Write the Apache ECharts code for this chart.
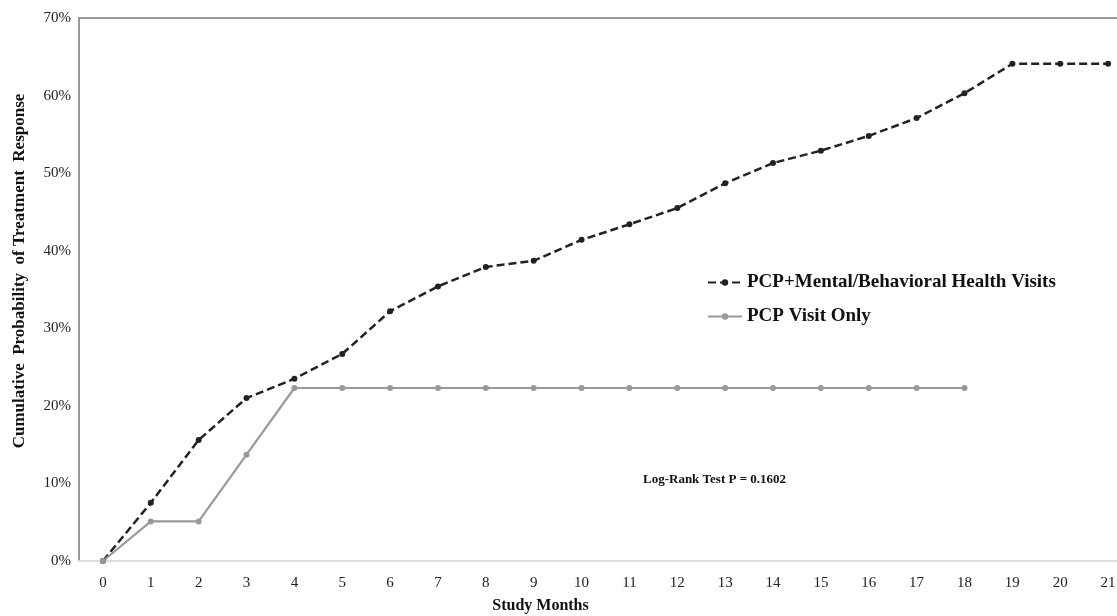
<!DOCTYPE html>
<html>
<head>
<meta charset="utf-8">
<script src="https://cdn.jsdelivr.net/npm/echarts@6/dist/echarts.min.js"></script>
<style>
  html, body { margin: 0; padding: 0; background: #fff; }
  #chart { width: 1117px; height: 616px; }
</style>
</head>
<body>
<div id="chart"></div>
<script>
var months = ['0', '1', '2', '3', '4', '5', '6', '7', '8', '9', '10',
    '11', '12', '13', '14', '15', '16', '17', '18', '19', '20', '21'];
// cumulative probability, %
var pcpMental = [0, 7.5, 15.6, 21.0, 23.5, 26.7, 32.2, 35.4, 37.9, 38.7, 41.4,
    43.4, 45.5, 48.7, 51.3, 52.9, 54.8, 57.1, 60.3, 64.1, 64.1, 64.1];
var pcpOnly = [0, 5.1, 5.1, 13.7, 22.3, 22.3, 22.3, 22.3, 22.3, 22.3, 22.3,
    22.3, 22.3, 22.3, 22.3, 22.3, 22.3, 22.3, 22.3];
var seriesNames = ['PCP+Mental/Behavioral Health Visits', 'PCP Visit Only'];
var yTicks = [0, 10, 20, 30, 40, 50, 60, 70];

var serif = '"Liberation Serif", "Times New Roman", serif';
var chart = echarts.init(document.getElementById('chart'));

var option = {
    backgroundColor: '#fff',
    animation: false,
    textStyle: { fontFamily: serif },
    // plot runs a bit past the right edge, like the original
    grid: { left: 79, width: 1053, top: 18, bottom: 55, outerBoundsMode: 'none', containLabel: false },
    legend: {
        orient: 'vertical',
        left: 702,
        top: 268,
        itemGap: 15,
        itemWidth: 34,
        itemHeight: 8,
        data: seriesNames,
        textStyle: { fontFamily: serif, fontWeight: 'bold', fontSize: 19, color: '#111' }
    },
    xAxis: [{
        type: 'category',
        data: months,
        boundaryGap: true,
        name: 'Study Months',
        nameLocation: 'middle',
        nameGap: 37,
        // title sits left of the grid centre in the original
        nameTextStyle: { fontFamily: serif, fontWeight: 'bold', fontSize: 16, color: '#111', padding: [0, 130, 0, 0] },
        axisLine: { lineStyle: { color: '#ddd', width: 2 } },
        axisTick: { show: false },
        axisLabel: { fontFamily: serif, fontSize: 15, color: '#222', margin: 15, interval: 0 }
    }, {
        type: 'category',
        data: months,
        position: 'top',
        axisLine: { lineStyle: { color: '#999', width: 2 } },
        axisTick: { show: false },
        axisLabel: { show: false }
    }],
    yAxis: {
        type: 'value',
        min: yTicks[0],
        max: yTicks[yTicks.length - 1],
        interval: 10,
        axisLine: { show: true, lineStyle: { color: '#999', width: 2 } },
        axisTick: { show: false },
        splitLine: { show: false },
        axisLabel: {
            fontFamily: serif, fontSize: 15, color: '#222', margin: 8,
            formatter: '{value}%'
        }
    },
    graphic: [{
        type: 'text',
        x: 20,
        y: 271,
        rotation: Math.PI / 2,
        style: {
            text: 'Cumulative  Probability  of Treatment  Response',
            font: 'bold 17px ' + serif,
            fill: '#111',
            align: 'center',
            verticalAlign: 'middle'
        }
    }, {
        type: 'text',
        left: 643,
        top: 473,
        style: {
            text: 'Log-Rank Test P = 0.1602',
            font: 'bold 13px ' + serif,
            fill: '#111'
        }
    }],
    series: [{
        name: seriesNames[0],
        type: 'line',
        data: pcpMental,
        symbol: 'circle',
        symbolSize: 6,
        itemStyle: { color: '#222' },
        lineStyle: { color: '#222', width: 2.5, type: [8, 4] }
    }, {
        name: seriesNames[1],
        type: 'line',
        data: pcpOnly,
        symbol: 'circle',
        symbolSize: 6,
        itemStyle: { color: '#999' },
        lineStyle: { color: '#999', width: 2.2 }
    }]
};
chart.setOption(option);
</script>
</body>
</html>
